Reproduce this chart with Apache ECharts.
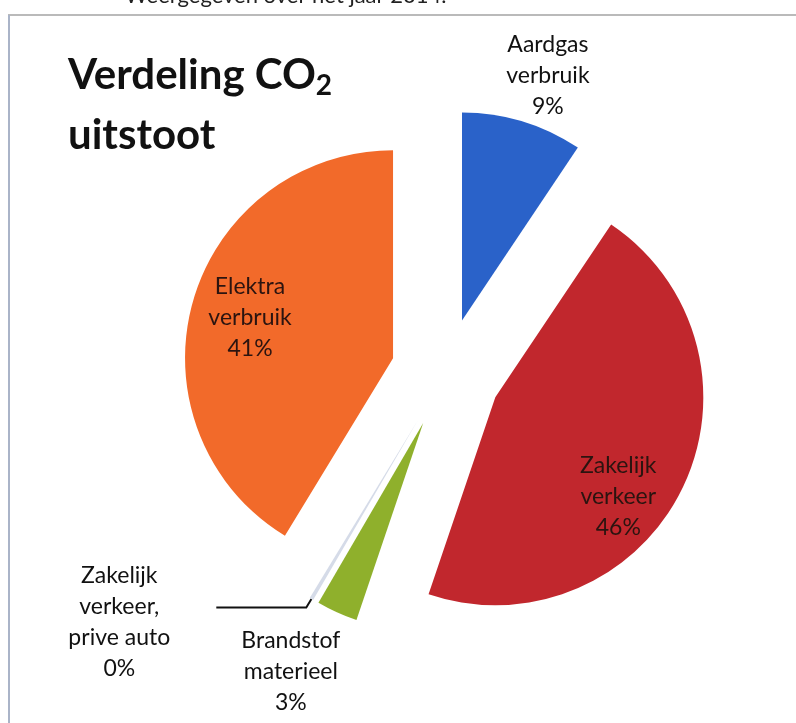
<!DOCTYPE html>
<html>
<head>
<meta charset="utf-8">
<script src="https://cdn.jsdelivr.net/npm/echarts@6/dist/echarts.min.js"></script>
<style>
  html, body { margin: 0; padding: 0; background: #fff; }
  #chart { width: 796px; height: 723px; }
</style>
</head>
<body>
<div id="chart"></div>
<script>
// categories and values (percentages)
const categories = [
  "Aardgas\nverbruik",
  "Zakelijk\nverkeer",
  "Brandstof\nmaterieel",
  "Zakelijk\nverkeer,\nprive auto",
  "Elektra\nverbruik"
];
const values = [9.4, 45.8, 3.2, 0.3, 41.3];
const colors = ["#2a62c9", "#c1272d", "#8fb02c", "#d5dbe8", "#f26a2a"];

const myChart = echarts.init(document.getElementById("chart"));

const fontFamily = "Lato, 'Noto Sans', sans-serif";

// nudges for labels relative to where the library puts them
const labelNudge = [
  { dx: -14, dy: -31, align: "center" },
  { dx: 27, dy: 52 },
  { dx: -5, dy: 46, align: "center" },
  null,
  { dx: -40, dy: -12 }
];

const pieData = categories.map(function (name, i) {
  const item = {
    name: name,
    value: values[i],
    selected: true,
    itemStyle: { color: colors[i] }
  };
  if (i === 1 || i === 4) {
    item.label = { position: "inside", color: "#2b1410" };
  } else if (i === 3) {
    item.label = {
      position: "outside",
      padding: [30, 0, 0, 0],
      formatter: function (p) {
        return p.name.split("\n").map(function (s) { return "{c|" + s + "}"; }).join("\n") +
          "\n{c|" + Math.round(p.percent) + "%}";
      },
      rich: { c: { width: 184, align: "center", fontSize: 23, lineHeight: 31, fontFamily: fontFamily, color: "#111" } }
    };
    item.labelLine = { show: true, length: 10, length2: 90, lineStyle: { color: "#111", width: 2 } };
  }
  return item;
});

const option = {
  backgroundColor: "#fff",
  animation: false,
  title: {
    text: "Verdeling CO{s|2}\nuitstoot",
    left: 63,
    top: 40,
    textStyle: {
      fontFamily: fontFamily,
      fontWeight: "bold",
      fontSize: 42,
      lineHeight: 60,
      color: "#111",
      rich: {
        s: { fontFamily: fontFamily, fontWeight: "bold", fontSize: 28, color: "#111", padding: [22, 0, 0, 0], lineHeight: 60 }
      }
    }
  },
  graphic: [
    { type: "text", left: 125, top: -15, style: { text: "Weergegeven over het jaar 2014.", font: "22px " + fontFamily, fill: "#222" } },
    { type: "line", shape: { x1: 8, y1: 15, x2: 796, y2: 15 }, style: { stroke: "#a3a3a3", lineWidth: 1.5 } },
    { type: "line", shape: { x1: 9, y1: 15, x2: 9, y2: 723 }, style: { stroke: "#aab4c8", lineWidth: 2 } }
  ],
  series: [
    {
      type: "pie",
      center: [446, 373],
      radius: 208,
      startAngle: 90,
      clockwise: true,
      selectedMode: "multiple",
      selectedOffset: 55,
      avoidLabelOverlap: false,
      emphasis: { disabled: true },
      select: { itemStyle: { borderWidth: 0 } },
      label: {
        show: true,
        position: "outside",
        fontFamily: fontFamily,
        fontSize: 23,
        lineHeight: 31,
        color: "#111",
        align: "center",
        formatter: function (p) {
          return p.name + "\n" + Math.round(p.percent) + "%";
        }
      },
      labelLine: { show: false },
      labelLayout: function (params) {
        return labelNudge[params.dataIndex] || {};
      },
      data: pieData
    }
  ]
};

myChart.setOption(option);
</script>
</body>
</html>
